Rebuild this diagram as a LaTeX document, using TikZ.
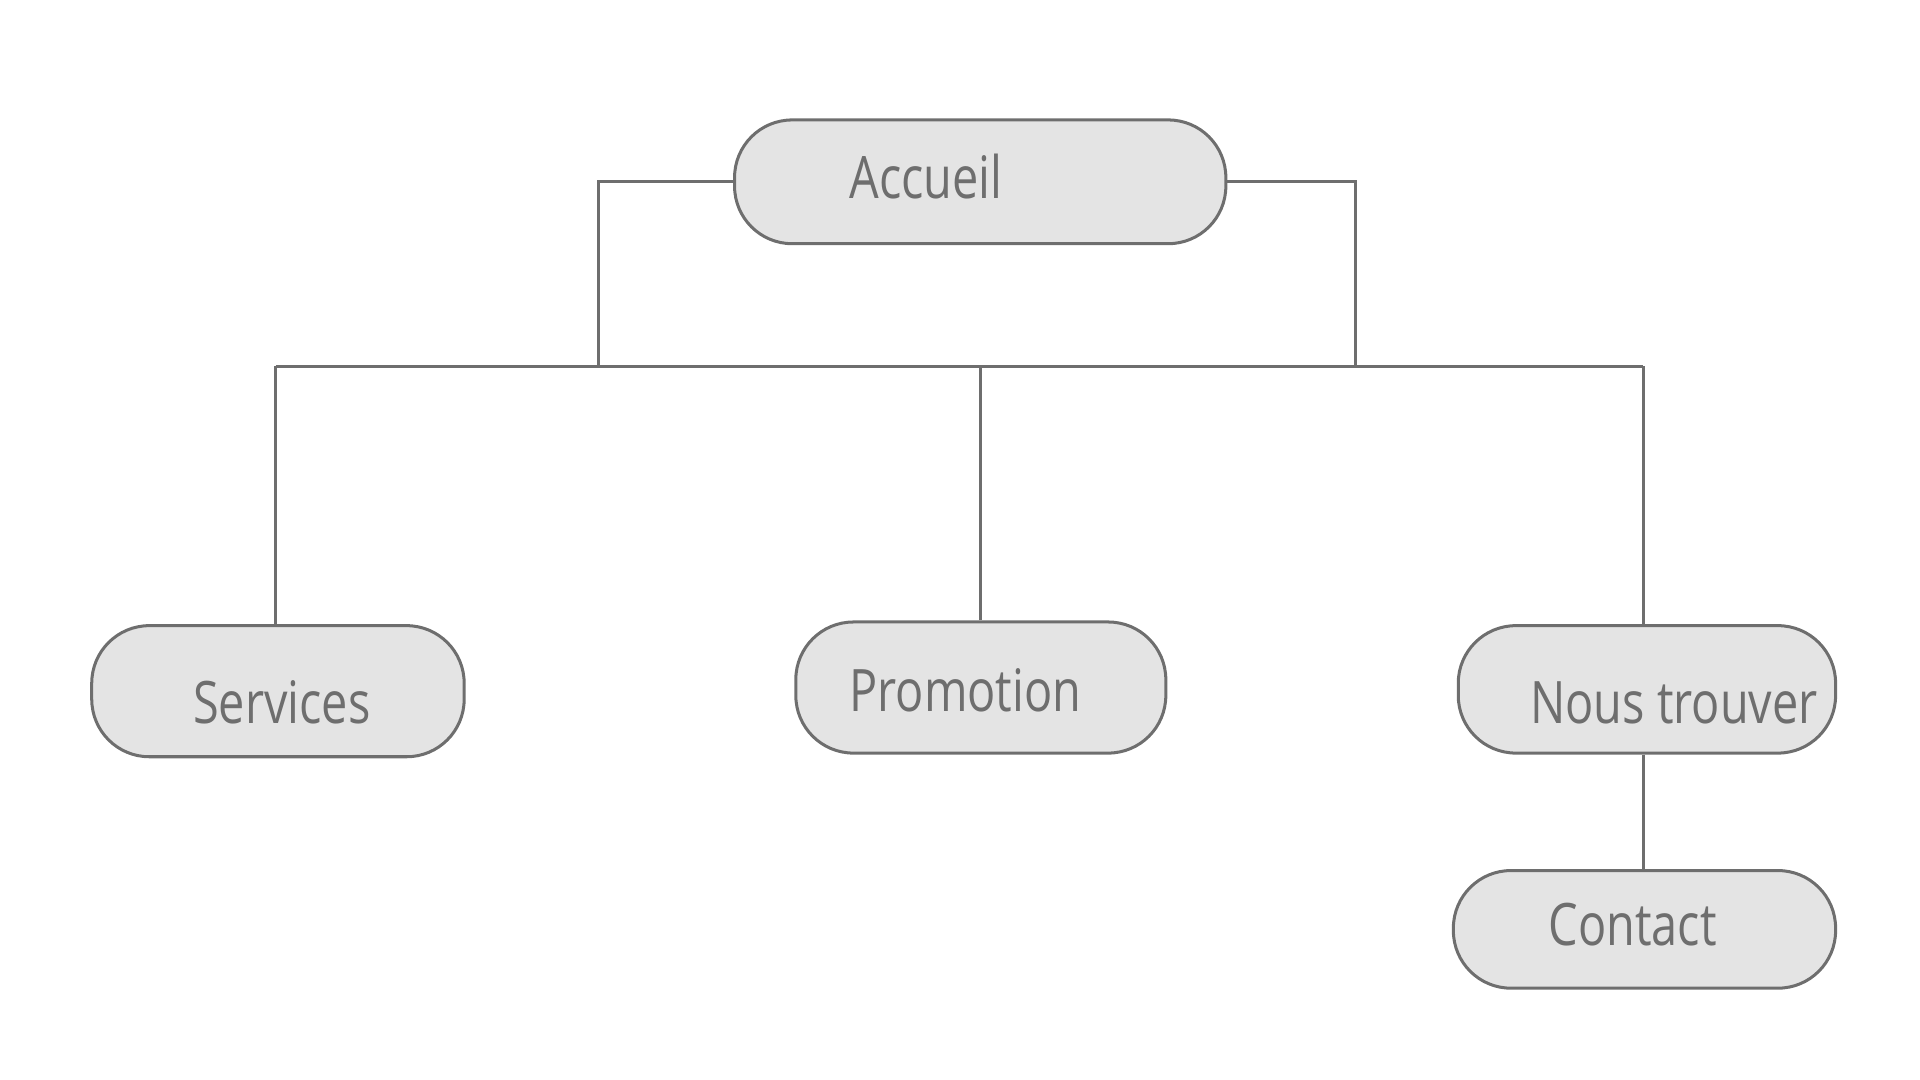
\documentclass[tikz,border=0pt]{standalone}
\usepackage{fontspec}
\setmainfont{Open Sans}[FakeStretch=0.8]
\usepackage{xcolor}
\definecolor{linegray}{HTML}{6E6E6E}
\definecolor{boxgray}{HTML}{E4E4E4}

\begin{document}
\begin{tikzpicture}[x=0.01cm, y=0.01cm,
    page/.style={rectangle, % 节点形状:圆角矩形
       rounded corners=0.47cm, % 圆角半径
       line width=0.7pt, % 边框宽度
       draw=linegray, % 边框颜色
       fill=boxgray, % 填充色
       inner sep=0pt}, % 节点内部留白
    lbl/.style={anchor=base west, inner sep=0pt, text=linegray,
       font=\fontsize{13.6}{16}\selectfont},
    conn/.style={line width=0.7pt, draw=linegray}]
    \useasboundingbox (0, 0) rectangle (1568, 882);

    % 1. 绘制五个页面节点
    \node [page, minimum width=4.01cm, minimum height=1.01cm] (accueil) at (800.5, 733.5) {};
    \node [lbl] (accueil-t) at (693, 720) {Accueil};
    \node [page, minimum width=3.04cm, minimum height=1.07cm] (services) at (227, 317.5) {};
    \node [lbl] (services-t) at (157, 291) {Services};
    \node [page, minimum width=3.02cm, minimum height=1.07cm] (promotion) at (801, 320.5) {};
    \node [lbl] (promotion-t) at (693, 301) {Promotion};
    \node [page, minimum width=3.08cm, minimum height=1.04cm] (nous) at (1345, 319) {};
    \node [lbl] (nous-t) at (1249, 291) {Nous trouver};
    \node [page, minimum width=3.12cm, minimum height=0.96cm] (contact) at (1343, 123) {};
    \node [lbl] (contact-t) at (1264, 110) {Contact};

    % 2. 绘制水平总线
    \coordinate (busL) at (225, 583);
    \coordinate (busR) at (1342, 583);
    \coordinate (jl) at (489, 583);
    \coordinate (jr) at (1107, 583);
    \draw [conn] (busL) -- (busR);

    % 3. 绘制节点与总线之间的连线
    \draw [conn] (accueil.west) -| (jl);
    \draw [conn] (accueil.east) -| (jr);
    \draw [conn] (services.north -| busL) -- (busL);
    \draw [conn] (promotion.north) -- (promotion.north |- busL);
    \draw [conn] (nous.north -| busR) -- (busR);
    \draw [conn] (nous.south -| busR) -- (contact.north -| busR);
\end{tikzpicture}
\end{document}
